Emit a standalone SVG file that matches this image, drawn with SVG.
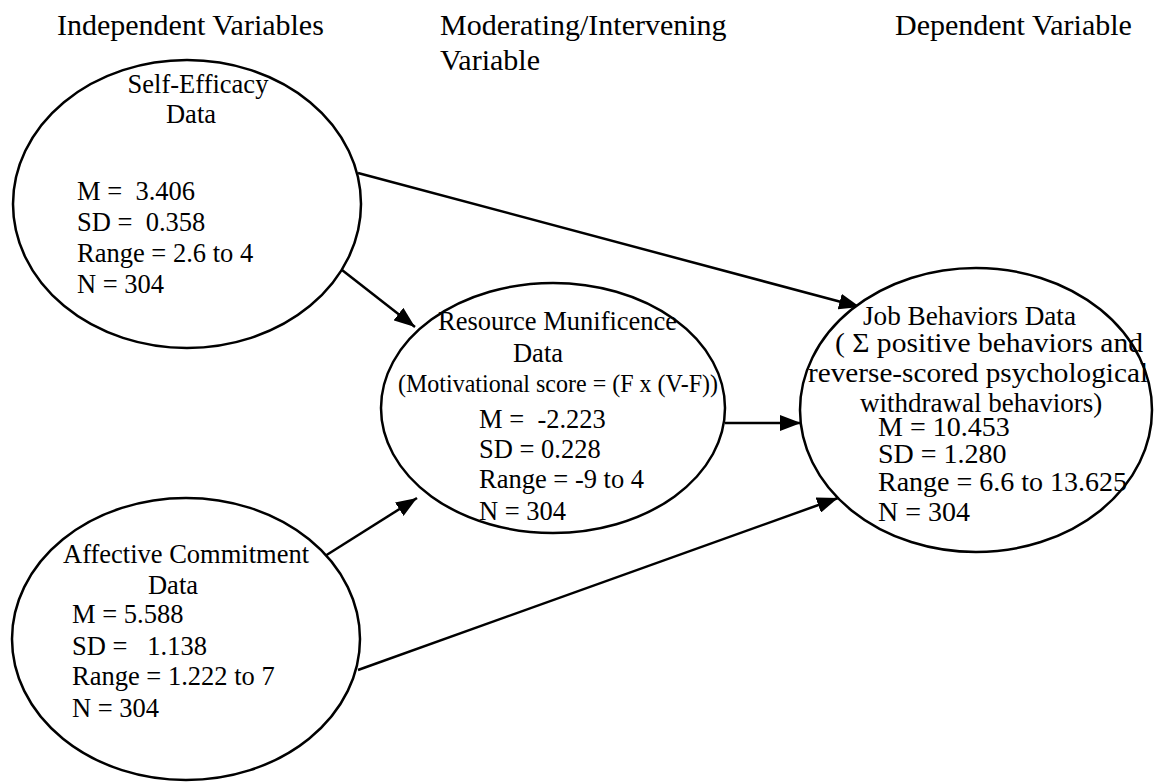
<svg xmlns="http://www.w3.org/2000/svg" width="1160" height="783" viewBox="0 0 1160 783" xml:space="preserve">
<style>
text { font-family: "Liberation Serif", "Times New Roman", serif; fill: #000; white-space: pre; }
.hdr { font-size: 30px; }
.t { font-size: 26.5px; }
.j { font-size: 28px; }
.node ellipse { fill: #fff; stroke: #000; stroke-width: 2.5; }
.conn line { stroke: #000; stroke-width: 2.5; }
</style>
<defs>
<marker id="ah" markerUnits="userSpaceOnUse" markerWidth="22" markerHeight="16" refX="21" refY="8" orient="auto">
<path d="M0,0 L21,8 L0,16 z" fill="#000"/>
</marker>
</defs>
<rect width="1160" height="783" fill="#fff"/>
<g id="headers">
<text class="hdr" x="57" y="35">Independent Variables</text>
<text class="hdr" x="440" y="35">Moderating/Intervening</text>
<text class="hdr" x="440" y="70">Variable</text>
<text class="hdr" x="895" y="35">Dependent Variable</text>
</g>
<g id="connectors" class="conn">
<line x1="358" y1="173" x2="860" y2="307" marker-end="url(#ah)"/>
<line x1="342" y1="270" x2="415" y2="327" marker-end="url(#ah)"/>
<line x1="725" y1="423" x2="801" y2="423" marker-end="url(#ah)"/>
<line x1="325" y1="556" x2="417" y2="498" marker-end="url(#ah)"/>
<line x1="358" y1="670" x2="838" y2="498" marker-end="url(#ah)"/>
</g>
<g id="self-efficacy" class="node">
<ellipse cx="187" cy="204" rx="174" ry="144" fill="none"/>
<text class="t" x="198" y="93" text-anchor="middle">Self-Efficacy</text>
<text class="t" x="191" y="123" text-anchor="middle">Data</text>
<text class="t" x="77" y="200">M =  3.406</text>
<text class="t" x="77" y="231">SD =  0.358</text>
<text class="t" x="77" y="262">Range = 2.6 to 4</text>
<text class="t" x="77" y="293">N = 304</text>
</g>
<g id="affective-commitment" class="node">
<ellipse cx="186" cy="639" rx="174" ry="141"/>
<text class="t" x="63" y="563">Affective Commitment</text>
<text class="t" x="173" y="594" text-anchor="middle">Data</text>
<text class="t" x="72" y="623">M = 5.588</text>
<text class="t" x="72" y="655">SD =   1.138</text>
<text class="t" x="72" y="685">Range = 1.222 to 7</text>
<text class="t" x="72" y="717">N = 304</text>
</g>
<g id="resource-munificence" class="node">
<ellipse cx="553" cy="408" rx="172" ry="125"/>
<text class="t" x="438" y="330">Resource Munificence</text>
<text class="t" x="538" y="362" text-anchor="middle">Data</text>
<text class="t" x="398" y="392" style="font-size:26px" textLength="320" lengthAdjust="spacingAndGlyphs">(Motivational score = (F x (V-F))</text>
<text class="t" x="479" y="428">M =  -2.223</text>
<text class="t" x="479" y="458">SD = 0.228</text>
<text class="t" x="479" y="488">Range = -9 to 4</text>
<text class="t" x="479" y="520">N = 304</text>
</g>
<g id="job-behaviors" class="node">
<ellipse cx="976" cy="410" rx="176" ry="142"/>
<text class="j" x="863" y="325" textLength="213" lengthAdjust="spacingAndGlyphs">Job Behaviors Data</text>
<text class="j" x="835" y="352" textLength="308" lengthAdjust="spacingAndGlyphs">( Σ positive behaviors and</text>
<text class="j" x="808" y="382" textLength="340" lengthAdjust="spacingAndGlyphs">reverse-scored psychological</text>
<text class="j" x="860" y="412" style="font-size:27px">withdrawal behaviors)</text>
<text class="j" x="878" y="436">M = 10.453</text>
<text class="j" x="878" y="463">SD = 1.280</text>
<text class="j" x="878" y="491">Range = 6.6 to 13.625</text>
<text class="j" x="878" y="521">N = 304</text>
</g>
</svg>
